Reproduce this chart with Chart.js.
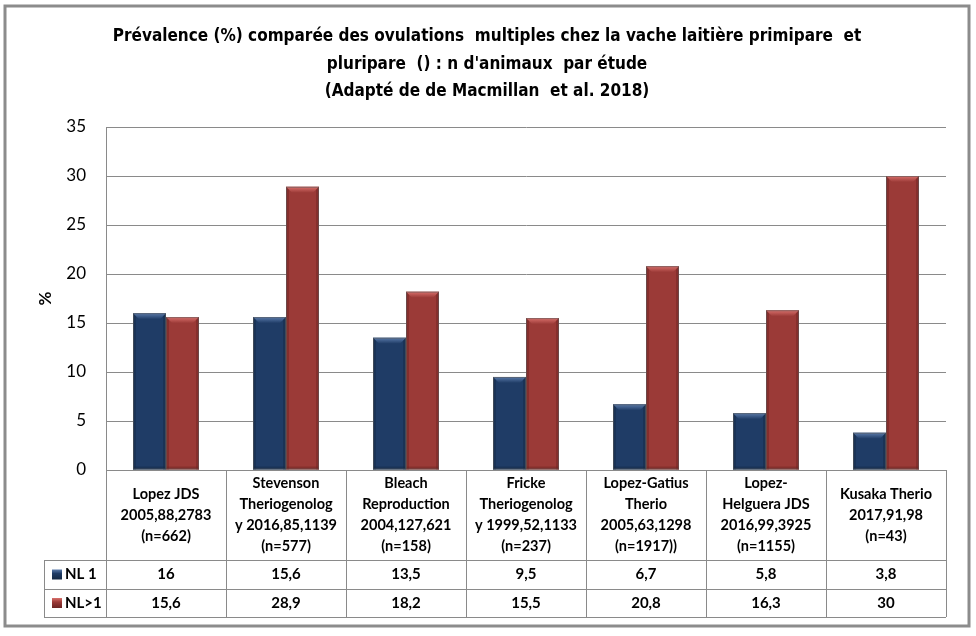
<!DOCTYPE html>
<html>
<head>
<meta charset="utf-8">
<script src="https://cdn.jsdelivr.net/npm/chart.js@4.4.1/dist/chart.umd.min.js"></script>
<style>
  html, body { margin: 0; background: #fff; }
  #wrap { width: 976px; height: 636px; position: relative; }
</style>
</head>
<body>
<div id="wrap"><canvas id="graphe"></canvas></div>
<script>
// Données
const etudes = [
  ["Lopez JDS", "2005,88,2783", "(n=662)"],
  ["Stevenson", "Theriogenolog", "y 2016,85,1139", "(n=577)"],
  ["Bleach", "Reproduction", "2004,127,621", "(n=158)"],
  ["Fricke", "Theriogenolog", "y 1999,52,1133", "(n=237)"],
  ["Lopez-Gatius", "Therio", "2005,63,1298", "(n=1917))"],
  ["Lopez-", "Helguera JDS", "2016,99,3925", "(n=1155)"],
  ["Kusaka Therio", "2017,91,98", "(n=43)"]
];
const nl1 = [16, 15.6, 13.5, 9.5, 6.7, 5.8, 3.8];
const nlPlus1 = [15.6, 28.9, 18.2, 15.5, 20.8, 16.3, 30];
const nomsSeries = ["NL 1", "NL>1"];
const titre = [
  "Prévalence (%) comparée des ovulations  multiples chez la vache laitière primipare  et",
  "pluripare  () : n d'animaux  par étude",
  "(Adapté de de Macmillan  et al. 2018)"
];
const yMax = 35, yPas = 5;

// Couleurs des séries (base, clair, foncé)
const couleurs = [
  { base: "#1f3c66", clair: "#5b7bab", fonce: "#142843" },
  { base: "#9b3a37", clair: "#d9706c", fonce: "#6a2422" }
];

const fmt = v => String(v).replace(".", ",");

// Effet biseauté des barres (façon Excel)
const biseau = {
  id: "biseau",
  afterDatasetsDraw(chart) {
    const ctx = chart.ctx;
    chart.data.datasets.forEach((ds, i) => {
      const c = couleurs[i];
      chart.getDatasetMeta(i).data.forEach(bar => {
        const l = bar.x - bar.width / 2, r = bar.x + bar.width / 2;
        const t = bar.y, b = bar.base, e = 6;
        ctx.save();
        // haut clair
        let g = ctx.createLinearGradient(0, t, 0, t + e);
        g.addColorStop(0, c.clair);
        g.addColorStop(1, c.base);
        ctx.fillStyle = g;
        ctx.beginPath();
        ctx.moveTo(l, t); ctx.lineTo(r, t); ctx.lineTo(r - e, t + e); ctx.lineTo(l + e, t + e);
        ctx.closePath(); ctx.fill();
        // côtés foncés
        ctx.globalAlpha = 0.45;
        ctx.fillStyle = c.fonce;
        ctx.beginPath();
        ctx.moveTo(l, t); ctx.lineTo(l + 3, t + 3); ctx.lineTo(l + 3, b); ctx.lineTo(l, b);
        ctx.closePath(); ctx.fill();
        ctx.beginPath();
        ctx.moveTo(r, t); ctx.lineTo(r - 3, t + 3); ctx.lineTo(r - 3, b); ctx.lineTo(r, b);
        ctx.closePath(); ctx.fill();
        ctx.fillRect(l, b - 3, r - l, 3);
        ctx.globalAlpha = 1;
        ctx.strokeStyle = "rgba(90,90,90,0.6)";
        ctx.lineWidth = 1;
        ctx.strokeRect(l + 0.5, t + 0.5, r - l - 1, b - t - 1);
        ctx.restore();
      });
    });
  }
};

// Titre, table de données et cadre
const table = {
  id: "table",
  afterDraw(chart) {
    const ctx = chart.ctx, xs = chart.scales.x, ca = chart.chartArea;
    const n = etudes.length, larg = (ca.right - ca.left) / n;
    const yHaut = ca.bottom, yEntete = yHaut + 90, yL1 = yEntete + 29, yL2 = yL1 + 28;
    const xLeg = 44;
    ctx.save();

    // titre
    ctx.fillStyle = "#000";
    ctx.textAlign = "center";
    ctx.textBaseline = "middle";
    ctx.font = "bold 17px 'Liberation Sans Narrow', 'DejaVu Sans Condensed', sans-serif";
    titre.forEach((ligne, k) => ctx.fillText(ligne, 487, 37 + k * 27.5));

    // lignes de la table
    ctx.strokeStyle = "#8a8a8a";
    ctx.lineWidth = 1;
    ctx.beginPath();
    [yHaut, yEntete, yL1, yL2].forEach((y, k) => {
      ctx.moveTo(k === 0 ? ca.left : xLeg, Math.round(y) + 0.5);
      ctx.lineTo(ca.right, Math.round(y) + 0.5);
    });
    for (let i = 0; i <= n; i++) {
      const x = Math.round(ca.left + i * larg) + 0.5;
      ctx.moveTo(x, yHaut); ctx.lineTo(x, yL2);
    }
    ctx.moveTo(xLeg + 0.5, yEntete); ctx.lineTo(xLeg + 0.5, yL2);
    ctx.stroke();

    // en-têtes (études)
    ctx.font = "bold 14.5px Lato, sans-serif";
    etudes.forEach((lignes, i) => {
      const cx = xs.getPixelForValue(i);
      const y0 = (yHaut + yEntete) / 2 - (lignes.length - 1) * 21 / 2;
      lignes.forEach((t, k) => ctx.fillText(t, cx, y0 + k * 21));
    });

    // valeurs
    ctx.font = "bold 15px Lato, sans-serif";
    const series = [nl1, nlPlus1];
    const ys = [(yEntete + yL1) / 2, (yL1 + yL2) / 2];
    series.forEach((s, j) => {
      s.forEach((v, i) => ctx.fillText(fmt(v), xs.getPixelForValue(i), ys[j]));
      // clé de légende
      const c = couleurs[j];
      const g = ctx.createLinearGradient(0, ys[j] - 5, 0, ys[j] + 5);
      g.addColorStop(0, c.clair); g.addColorStop(0.4, c.base); g.addColorStop(1, c.fonce);
      ctx.fillStyle = g;
      ctx.fillRect(52, ys[j] - 5, 10, 10);
      ctx.fillStyle = "#000";
      ctx.textAlign = "left";
      ctx.fillText(nomsSeries[j], 65, ys[j]);
      ctx.textAlign = "center";
    });

    // cadre extérieur
    ctx.strokeStyle = "#8c8c8c";
    ctx.lineWidth = 3;
    ctx.strokeRect(5, 6, 964, 620);
    ctx.restore();
  }
};

new Chart(document.getElementById("graphe"), {
  type: "bar",
  data: {
    labels: etudes.map(e => e.join(" ")),
    datasets: [
      { label: nomsSeries[0], data: nl1, backgroundColor: couleurs[0].base },
      { label: nomsSeries[1], data: nlPlus1, backgroundColor: couleurs[1].base }
    ]
  },
  options: {
    responsive: true,
    maintainAspectRatio: false,
    animation: false,
    devicePixelRatio: 1,
    layout: { padding: { top: 127, left: 6, right: 30, bottom: 166 } },
    datasets: { bar: { categoryPercentage: 0.55, barPercentage: 1, borderWidth: 0 } },
    plugins: { legend: { display: false }, tooltip: { enabled: false }, title: { display: false } },
    scales: {
      x: { display: false },
      y: {
        min: 0, max: yMax,
        afterFit: s => { s.width = 100; },
        ticks: { stepSize: yPas, padding: 20, color: "#000", font: { family: "Lato", size: 17 } },
        grid: { color: "#8a8a8a", drawTicks: false },
        border: { display: true, color: "#8a8a8a" },
        title: { display: true, text: "%", color: "#000", padding: { top: 29 },
                 font: { family: "Lato", size: 17, weight: "bold" } }
      }
    }
  },
  plugins: [biseau, table]
});
</script>
</body>
</html>
